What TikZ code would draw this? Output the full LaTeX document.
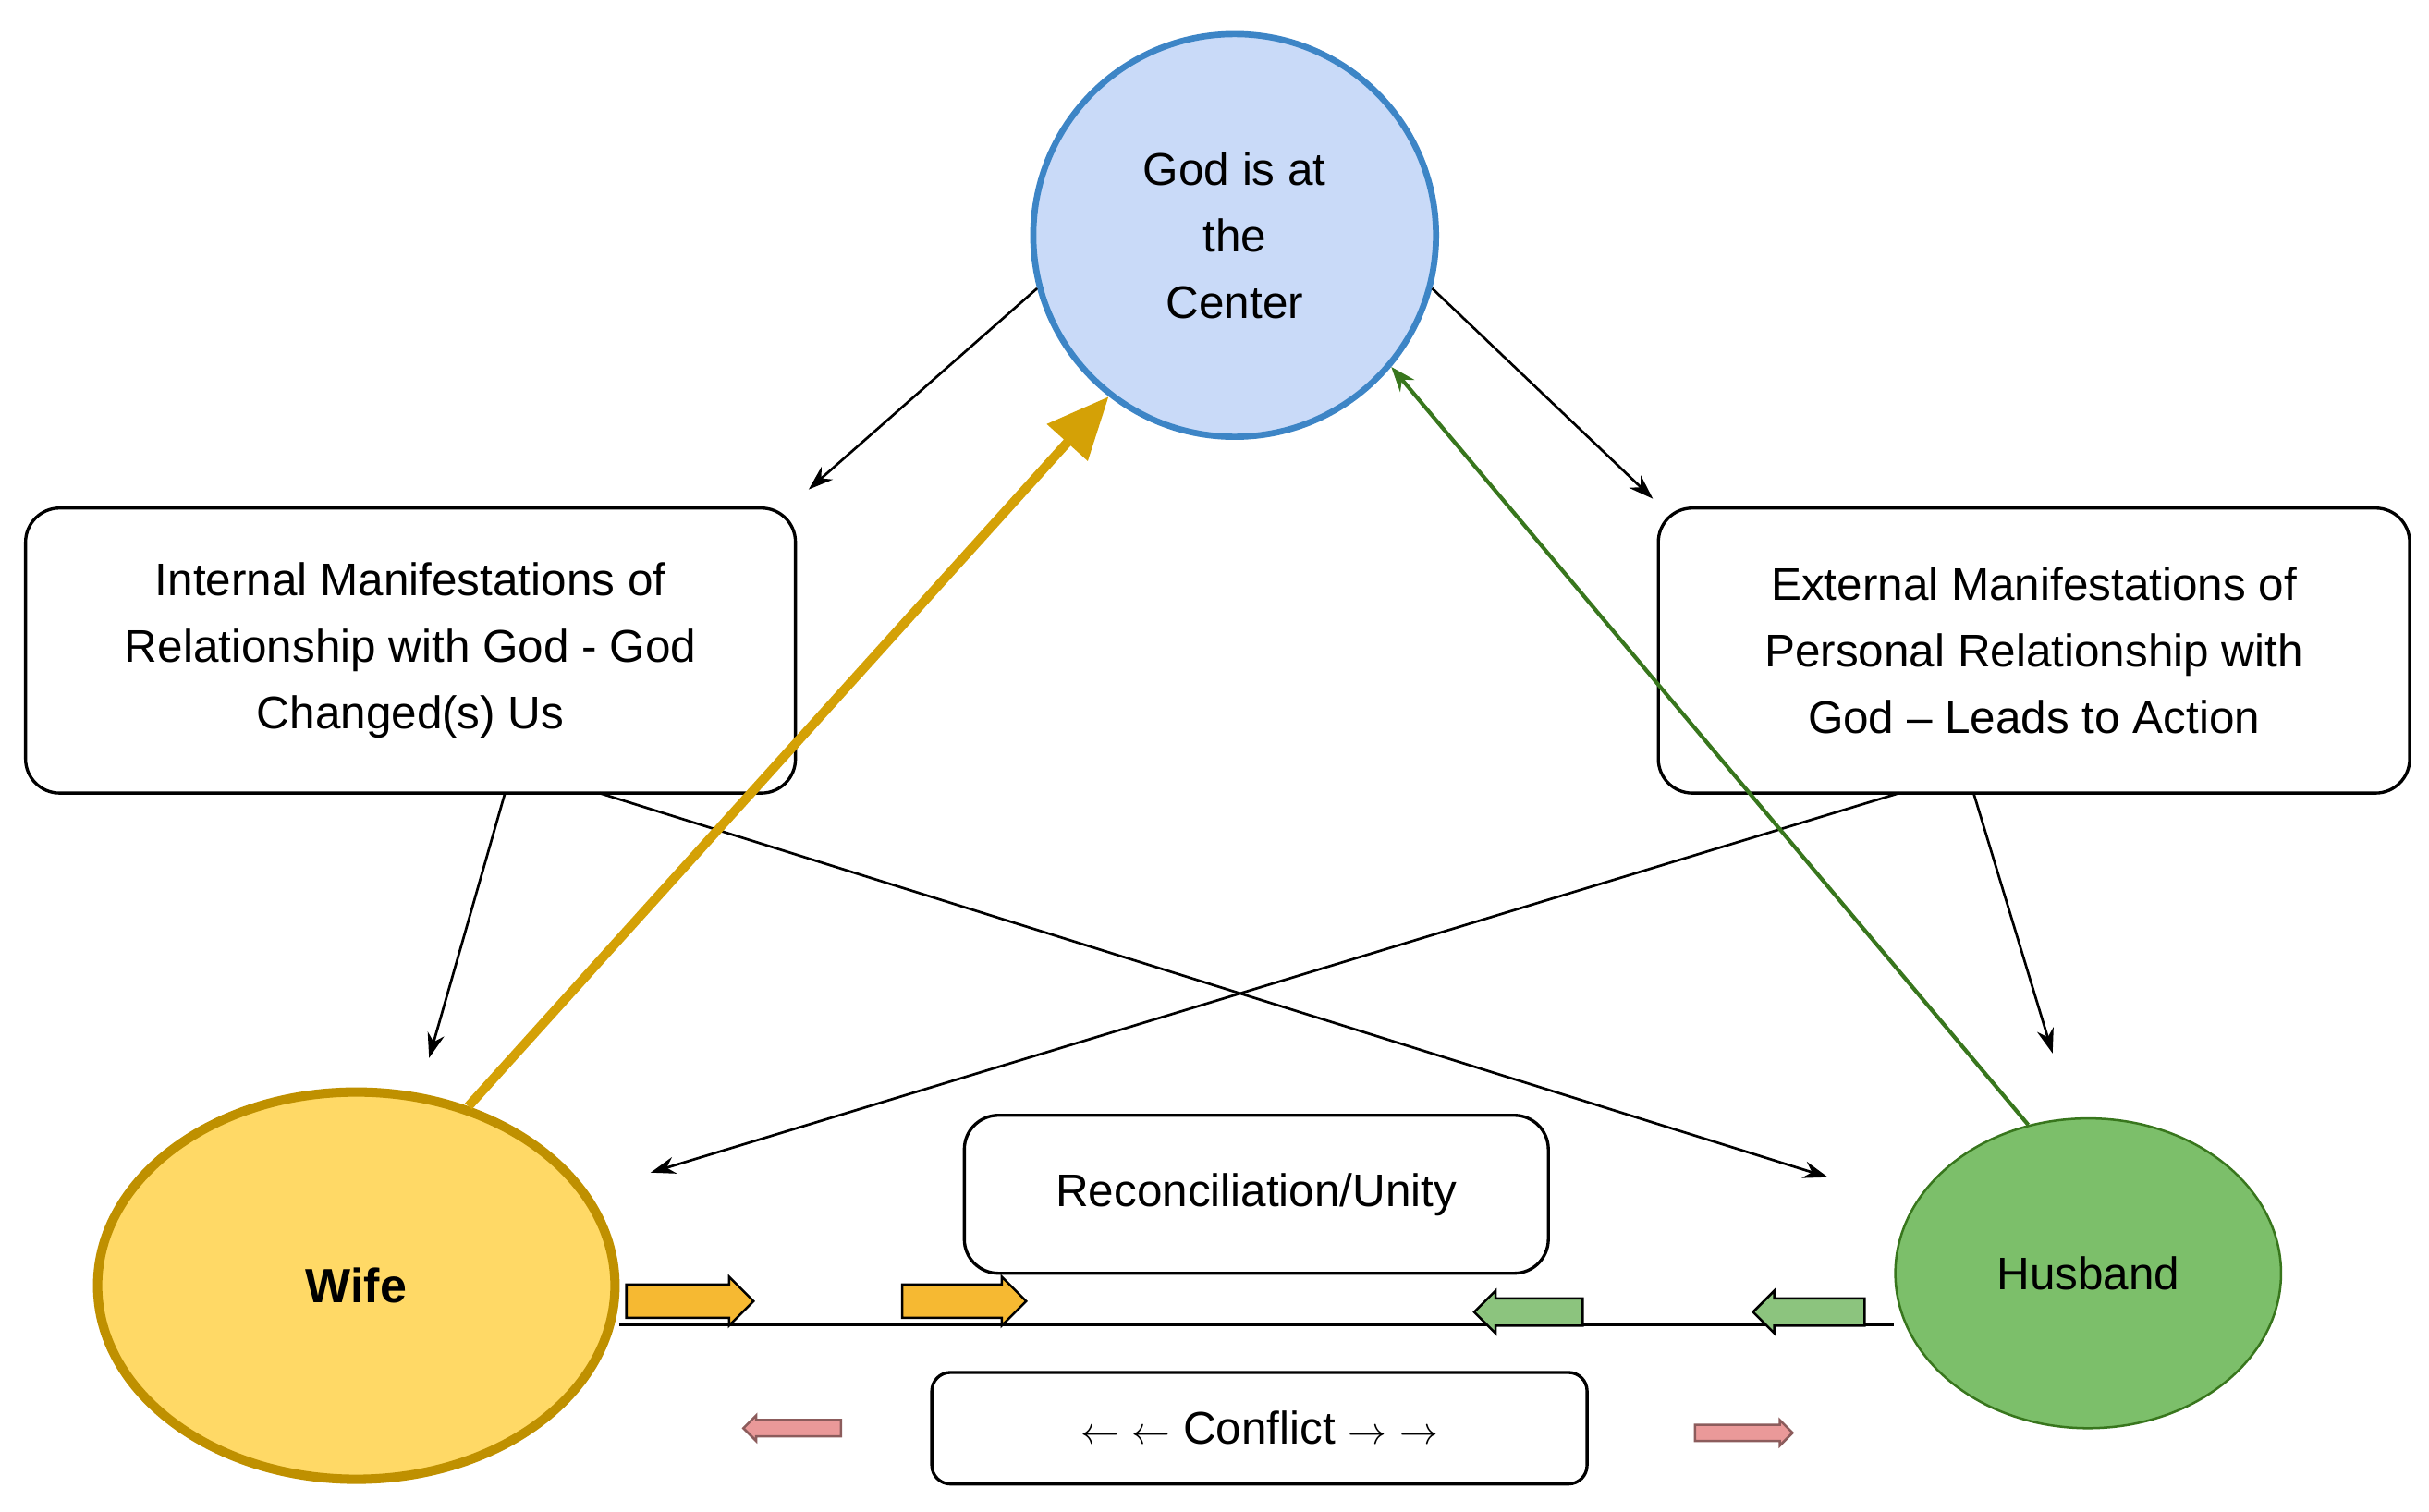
\documentclass[tikz,border=0pt]{standalone}
\usepackage{fontspec}
\setmainfont{Liberation Sans}
\usetikzlibrary{shapes.geometric,shapes.arrows,arrows.meta}
\definecolor{gblue}{HTML}{C9DAF8}\definecolor{gbluel}{HTML}{3D85C6}
\definecolor{wfill}{HTML}{FFD966}\definecolor{wline}{HTML}{BF9000}
\definecolor{hfill}{HTML}{7CBF6A}\definecolor{hline}{HTML}{38761D}
\definecolor{gold}{HTML}{D4A106}\definecolor{yarr}{HTML}{F6B932}
\definecolor{garr}{HTML}{8CC47E}\definecolor{parr}{HTML}{EA9999}
\begin{document}
\begin{tikzpicture}[x=1pt,y=-1pt,
 txt/.style={font=\fontsize{29.5}{43}\selectfont,align=center},
 box/.style={draw,line width=2pt,rounded corners=22pt,txt},
 conn/.style={-{Stealth[length=16pt,width=11pt]},line width=1.6pt},
 blk/.style={single arrow,draw,line width=1.5pt,single arrow head extend=5pt,minimum height=#1,minimum width=0pt,inner sep=0pt}]
\useasboundingbox (0,0) rectangle (1568,976);
\node[circle,draw=gbluel,fill=gblue,line width=4pt,minimum size=260pt,txt] (god) at (797,152) {God is at\\the\\Center};
\node[box,minimum width=497pt,minimum height=184pt] (int) at (265,420) {Internal Manifestations of\\Relationship with God - God\\Changed(s) Us};
\node[box,minimum width=485pt,minimum height=184pt] (ext) at (1313,420) {External Manifestations of\\Personal Relationship with\\God -- Leads to Action};
\node[ellipse,draw=wline,fill=wfill,line width=6pt,minimum width=334pt,minimum height=250pt,txt,font=\fontsize{31}{36}\selectfont\bfseries] (wife) at (230,830) {Wife};
\node[ellipse,draw=hline,fill=hfill,line width=1.5pt,minimum width=249pt,minimum height=200pt,txt] (hus) at (1348,822) {Husband};
\node[box,minimum width=377pt,minimum height=102pt] (rec) at (811,771) {Reconciliation/Unity};
\node[box,rounded corners=12pt,minimum width=423pt,minimum height=72pt] (con) at (813,922) {$\leftarrow$\ $\leftarrow$ Conflict $\rightarrow$\ $\rightarrow$};
\draw[line width=2pt] (wife.east) ++(0,25) coordinate (l1) -- (l1 -| hus.west);
\coordinate (a1) at (522,316);\coordinate (a2) at (1067,322);
\coordinate (a3) at (277,683);\coordinate (a4) at (1180,760);
\coordinate (a5) at (420,757);\coordinate (a6) at (1325,680);
\draw[conn] (god.195) -- (a1);
\draw[conn] (god.-15) -- (a2);
\draw[conn] (326,512) -- (a3);
\draw[conn] (387,512) -- (a4);
\draw[conn] (1226,512) -- (a5);
\draw[conn] (1274,512) -- (a6);
\draw[gold,line width=6pt,-{Triangle[length=40pt,width=34pt]}] (wife.58) -- (god.232);
\draw[hline,line width=2.5pt,-{Stealth[length=16pt,width=12pt]}] (hus.112) -- (god.-40);
\node[blk=82pt,fill=yarr] (b1) at (440,840) {\rule{0pt}{20pt}};
\node[blk=80pt,fill=yarr] (b2) at (617,840) {\rule{0pt}{20pt}};
\node[blk=70pt,fill=garr,shape border rotate=180] (b3) at (991,847) {\rule{0pt}{16pt}};
\node[blk=72pt,fill=garr,shape border rotate=180] (b4) at (1172,847) {\rule{0pt}{16pt}};
\node[blk=63pt,fill=parr,single arrow head extend=3pt,shape border rotate=180,draw=parr!60!black] (b5) at (514,922) {\rule{0pt}{9pt}};
\node[blk=63pt,fill=parr,single arrow head extend=3pt,draw=parr!60!black] (b6) at (1123,925) {\rule{0pt}{9pt}};
\end{tikzpicture}
\end{document}
